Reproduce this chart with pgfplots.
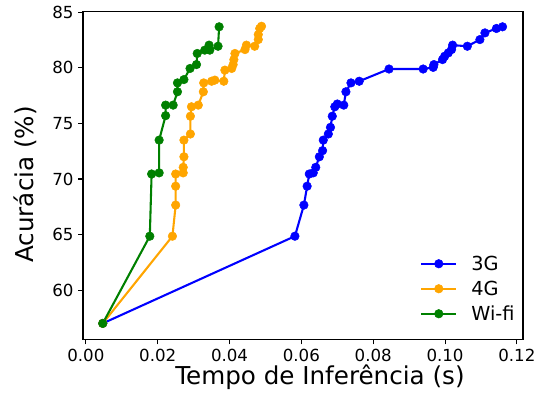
\documentclass[border=0pt]{standalone}
\usepackage{fontspec}
\setmainfont{DejaVu Sans}
\usepackage{pgfplots}
\pgfplotsset{compat=1.18}
\definecolor{mblue}{RGB}{0,0,255}
\definecolor{morange}{RGB}{255,165,0}
\definecolor{mgreen}{RGB}{0,128,0}
\begin{document}
\begin{tikzpicture}
\path[use as bounding box] (-83bp,-54.5bp) rectangle (452bp,339.5bp);
\begin{axis}[
  at={(0,0)}, anchor=south west,
  scale only axis, width=440bp, height=327.8bp,
  xmin=-0.0008, xmax=0.1217, ymin=55.55, ymax=85.06,
  xtick={0,0.02,0.04,0.06,0.08,0.10,0.12},
  xticklabels={0.00,0.02,0.04,0.06,0.08,0.10,0.12},
  ytick={60,65,70,75,80,85},
  yticklabels={60,65,70,75,80,85},
  scaled x ticks=false,
  tick pos=left, tick align=outside,
  major tick length=4.9bp,
  every tick/.style={black, line width=1.1bp},
  axis line style={black, line width=1.1bp},
  ticklabel style={font=\fontsize{16.7}{20}\selectfont},
  xticklabel style={yshift=-1.5bp},
  yticklabel style={xshift=-1bp},
  xlabel={Tempo de Inferência (s)},
  ylabel={Acurácia (\%)},
  every axis x label/.style={at={(axis description cs:0.5386,-0.1358)}, anchor=base, inner sep=0pt, font=\fontsize{24.7}{28}\selectfont},
  every axis y label/.style={at={(axis description cs:-0.113,0.4732)}, rotate=90, anchor=base, inner sep=0pt, font=\fontsize{24.7}{28}\selectfont},
  legend style={at={(0.766,0.253)}, anchor=north west, draw=none, fill=none, inner sep=0pt,
    row sep=11bp, column sep=14bp,
    nodes={inner sep=0pt, text height=14bp, text depth=0bp},
    font=\fontsize{19.4}{22}\selectfont},
  legend cell align=left,
  legend image code/.code={\draw[#1,mark repeat=2,mark phase=2] plot coordinates {(0bp,0bp) (17.5bp,0bp) (35bp,0bp)};},
  every axis plot/.append style={line width=2.08bp, mark=*, mark size=4.3bp, mark options={solid, line width=0.5bp}},
]
\addplot[color=mblue] coordinates {
(0.0047,57.0) (0.0582,64.85) (0.0607,67.65) (0.0616,69.35) (0.0622,70.45)
(0.0633,70.55) (0.0640,71.05) (0.0650,72.0) (0.0659,72.55) (0.0661,73.5)
(0.0675,74.05) (0.0681,74.65) (0.0686,75.65) (0.0693,76.5) (0.0700,76.75)
(0.0718,76.65) (0.0724,77.85) (0.0738,78.65) (0.0761,78.8) (0.0844,79.9)
(0.0939,79.9) (0.0967,80.05) (0.0969,80.3) (0.0993,80.75) (0.0999,81.05)
(0.1009,81.35) (0.1018,81.65) (0.1021,82.05) (0.1062,81.95) (0.1097,82.55)
(0.1111,83.15) (0.1143,83.55) (0.1160,83.7)
};
\addlegendentry{3G}
\addplot[color=morange] coordinates {
(0.0047,57.0) (0.0241,64.85) (0.0250,67.65) (0.0250,69.35) (0.0250,70.45)
(0.0271,70.55) (0.0271,71.05) (0.0273,72.0) (0.0273,73.5) (0.0291,74.05)
(0.0291,75.65) (0.0294,76.5) (0.0313,76.65) (0.0327,77.85) (0.0328,78.65)
(0.0350,78.8) (0.0359,78.9) (0.0384,78.8) (0.0387,79.8) (0.0406,79.95)
(0.0410,80.3) (0.0412,80.75) (0.0415,81.3) (0.0443,81.65) (0.0447,82.05)
(0.0470,81.95) (0.0480,82.55) (0.0480,83.0) (0.0484,83.55) (0.0489,83.75)
};
\addlegendentry{4G}
\addplot[color=mgreen] coordinates {
(0.0047,57.0) (0.0178,64.85) (0.0183,70.45) (0.0204,70.55) (0.0204,73.5)
(0.0222,75.7) (0.0222,76.65) (0.0243,76.65) (0.0255,77.85) (0.0255,78.65)
(0.0273,78.95) (0.0290,79.95) (0.0308,80.3) (0.0310,81.3) (0.0331,81.6)
(0.0343,82.05) (0.0345,81.6) (0.0368,81.95) (0.0371,83.7)
};
\addlegendentry{Wi-fi}
\end{axis}
\end{tikzpicture}
\end{document}
